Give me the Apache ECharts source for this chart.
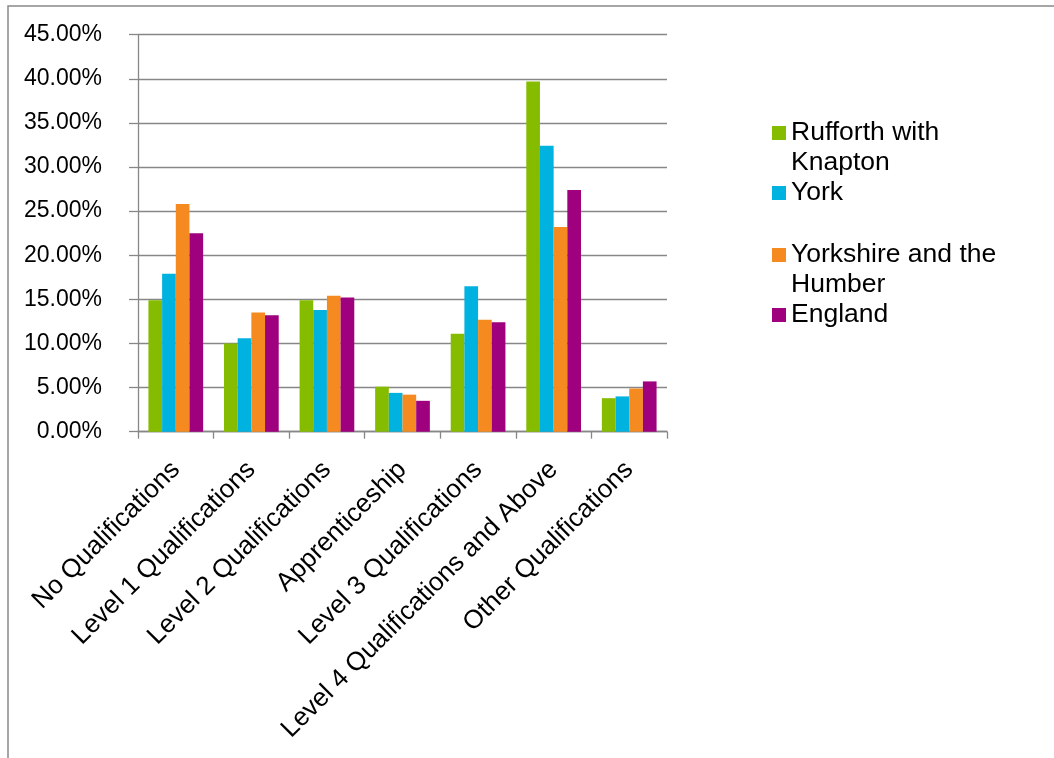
<!DOCTYPE html>
<html>
<head>
<meta charset="utf-8">
<title>Qualifications</title>
<script src="https://cdn.jsdelivr.net/npm/echarts@6/dist/echarts.min.js"></script>
<style>
  html, body { margin: 0; padding: 0; background: #ffffff; }
  #chart { width: 1054px; height: 758px; }
</style>
</head>
<body>
<div id="chart"></div>
<script>
// Highest level of qualification, share of residents aged 16+
const categories = [
  'No Qualifications',
  'Level 1 Qualifications',
  'Level 2 Qualifications',
  'Apprenticeship',
  'Level 3 Qualifications',
  'Level 4 Qualifications and Above',
  'Other Qualifications'
];
const seriesNames = ['Rufforth with\nKnapton', 'York', 'Yorkshire and the\nHumber', 'England'];
const rufforth  = [14.9, 10.0, 14.9, 5.1, 11.1, 39.7, 3.8];
const york      = [17.9, 10.6, 13.8, 4.4, 16.5, 32.4, 4.0];
const yorkshire = [25.8, 13.5, 15.4, 4.2, 12.7, 23.2, 4.9];
const england   = [22.5, 13.2, 15.2, 3.5, 12.4, 27.4, 5.7];
const yMin = 0, yMax = 45, yStep = 5;

const colors = ['#86BC00', '#00B2E0', '#F58B20', '#9E007E'];
const values = [rufforth, york, yorkshire, england];
const FONT = '"Liberation Sans", Arial, sans-serif';
const AXIS_GREY = '#878787';

// One legend block per series so each entry sits on its own row.
// Two-line names get an empty first line so the swatch lines up with
// the first line of text rather than the middle of the block.
const legendTops = [88, 178, 210, 300];
const twoLine = [true, false, true, false];
const legends = seriesNames.map((name, i) => ({
  data: [name],
  orient: 'vertical',
  left: 772,
  top: legendTops[i],
  padding: 0,
  itemWidth: 14,
  itemHeight: 14,
  itemGap: 0,
  icon: 'rect',
  selectedMode: false,
  formatter: n => (twoLine[i] ? '\n' + n : n),
  textStyle: {
    fontFamily: FONT,
    fontSize: 26.5,
    lineHeight: 30,
    color: '#000'
  }
}));

const chart = echarts.init(document.getElementById('chart'), null, { renderer: 'canvas' });
chart.setOption({
  backgroundColor: '#ffffff',
  animation: false,
  color: colors,
  textStyle: { fontFamily: FONT },
  graphic: [{
    type: 'rect',
    shape: { x: 8, y: 6, width: 1200, height: 900 },
    style: { fill: 'none', stroke: '#898989', lineWidth: 1.5 },
    silent: true
  }],
  legend: legends,
  grid: { left: 138, right: 387, top: 34.7, bottom: 326.3, containLabel: false },
  xAxis: {
    type: 'category',
    data: categories,
    boundaryGap: true,
    axisLine: { show: true, lineStyle: { color: AXIS_GREY, width: 1.3 } },
    axisTick: { show: true, length: 7, alignWithLabel: false, lineStyle: { color: AXIS_GREY, width: 1.3 } },
    axisLabel: {
      interval: 0,
      rotate: 45,
      margin: 34,
      fontFamily: FONT,
      fontSize: 26,
      color: '#000'
    },
    splitLine: { show: false }
  },
  yAxis: {
    type: 'value',
    min: yMin,
    max: yMax,
    interval: yStep,
    axisLine: { show: true, lineStyle: { color: AXIS_GREY, width: 1.3 } },
    axisTick: { show: true, length: 9, lineStyle: { color: AXIS_GREY, width: 1.3 } },
    axisLabel: {
      margin: 36,
      fontFamily: FONT,
      fontSize: 23,
      color: '#000',
      formatter: v => v.toFixed(2) + '%'
    },
    splitLine: { show: true, lineStyle: { color: AXIS_GREY, width: 1.3 } }
  },
  series: seriesNames.map((name, i) => ({
    name: name,
    type: 'bar',
    data: values[i],
    barGap: '0%',
    barCategoryGap: '27.6%',
    itemStyle: { color: colors[i] }
  }))
});
</script>
</body>
</html>
